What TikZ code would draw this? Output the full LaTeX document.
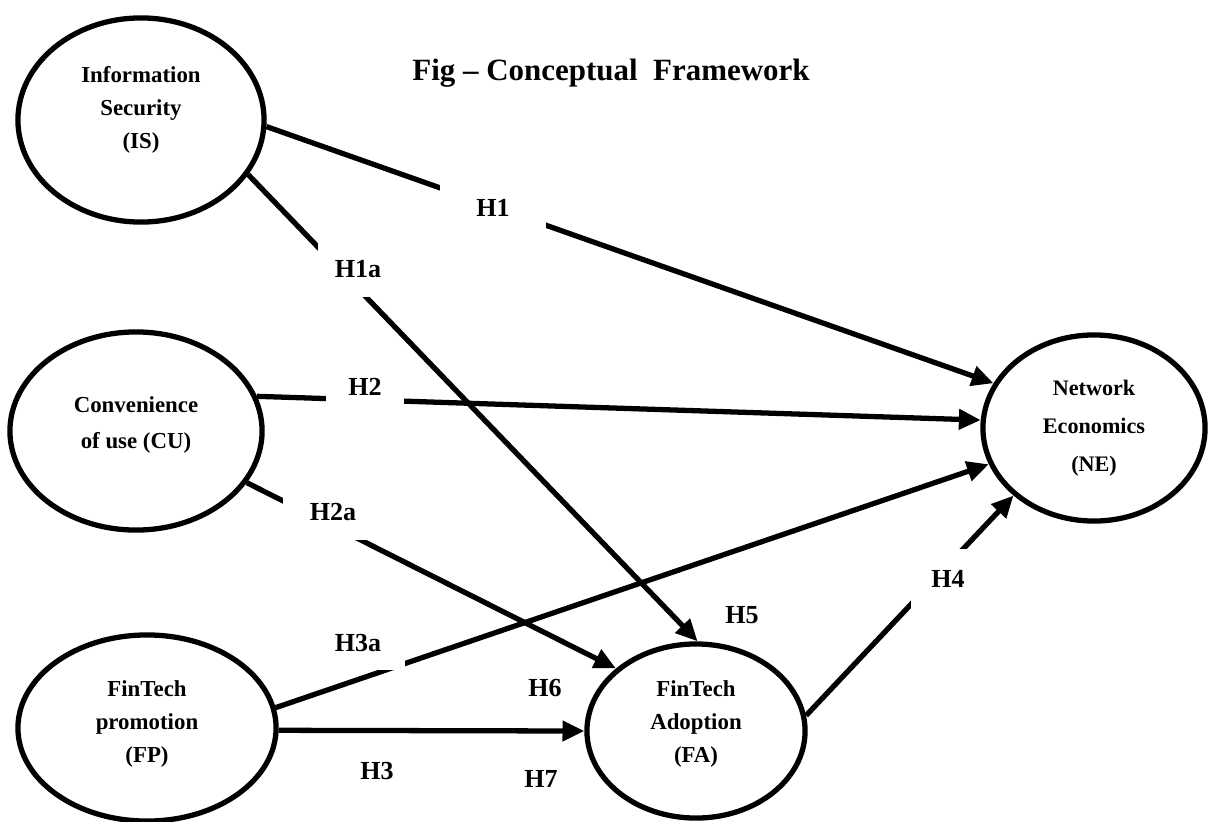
\documentclass[tikz,border=0pt]{standalone}
\usepackage{fontspec}
\setmainfont{Liberation Serif}
\usetikzlibrary{shapes.geometric,arrows.meta}
\begin{document}
\begin{tikzpicture}[x=0.01cm,y=-0.01cm,
  var/.style={ellipse,draw,line width=1.5pt,inner sep=0pt,align=center,font=\fontsize{6.5}{9.5}\selectfont\bfseries},
  hyp/.style={fill=white,inner sep=0pt,font=\fontsize{7.4}{8}\selectfont\bfseries},
  link/.style={line width=1.5pt,-{Triangle[length=6.2pt,width=5.6pt]}}]
\useasboundingbox (0,0) rectangle (1210,821);
\node[font=\fontsize{8.8}{10}\selectfont\bfseries] (title) at (611,73) {Fig – Conceptual\ \ Framework};
% constructs
\node[var,minimum width=2.46cm,minimum height=2.04cm] (IS) at (141,120) {Information\\Security\\(IS)\\[-2.4pt]{}};
\node[var,minimum width=2.52cm,minimum height=1.98cm,font=\fontsize{6.5}{10.5}\selectfont\bfseries] (CU) at (136,431) {Convenience\\of use (CU)\\[-5.7pt]{}};
\node[var,minimum width=2.58cm,minimum height=1.86cm] (FP) at (147,728) {FinTech\\promotion\\(FP)\\[-5.8pt]{}};
\node[var,minimum width=2.18cm,minimum height=1.74cm,font=\fontsize{6.5}{9.4}\selectfont\bfseries] (FA) at (696,731) {FinTech\\Adoption\\(FA)\\[-4pt]{}};
\node[var,minimum width=2.22cm,minimum height=1.86cm,font=\fontsize{6.3}{10.8}\selectfont\bfseries] (NE) at (1094,428) {Network\\Economics\\(NE)};
% hypotheses
\draw[link] (IS.-3) -- (NE.156);
\draw[link] (IS.-27) -- (FA.89);
\draw[link] (CU.16) -- (NE.176);
\draw[link] (CU.-25) -- (FA.142);
\draw[link] (FP.9) -- (NE.199);
\draw[link] (FP.-1) -- (FA.180);
\draw[link] (FA.8) -- (NE.220);
% labels
\node[hyp,minimum width=1.05cm,minimum height=0.45cm] (h1) at (493,208) {H1};
\node[hyp,minimum width=0.8cm,minimum height=0.55cm] (h1a) at (358,269) {H1a};
\node[hyp,minimum width=0.78cm,minimum height=0.5cm] (h2) at (365,387) {H2};
\node[hyp,minimum width=1.0cm,minimum height=0.55cm] (h2a) at (333,512) {H2a};
\node[hyp,minimum width=0.93cm,minimum height=0.53cm] (h3a) at (358,643) {H3a};
\node[hyp,minimum width=0.87cm,minimum height=0.52cm] (h3) at (377,771) {H3};
\node[hyp,minimum width=0.73cm,minimum height=0.52cm] (h6) at (545,688) {H6};
\node[hyp,minimum width=0.84cm,minimum height=0.58cm] (h7) at (541,779) {H7};
\node[hyp,minimum width=0.83cm,minimum height=0.5cm] (h5) at (742,615) {H5};
\node[hyp,minimum width=0.74cm,minimum height=0.6cm] (h4) at (948,579) {H4};
\end{tikzpicture}
\end{document}
